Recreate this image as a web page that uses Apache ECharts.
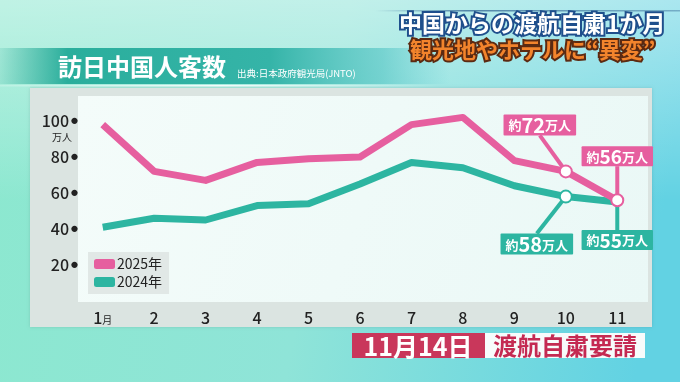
<!DOCTYPE html>
<html><head><meta charset="utf-8">
<script src="https://cdn.jsdelivr.net/npm/echarts@6/dist/echarts.min.js"></script>
<style>html,body{margin:0;padding:0;}#c{width:680px;height:382px;}</style>
</head><body><div id="c"></div>
<script>
const months = ['1月','2','3','4','5','6','7','8','9','10','11'];
const values2025 = [98, 72, 67, 77, 79, 80, 98, 102, 78, 72, 56];
const values2024 = [41, 46, 45, 53, 54, 65, 77, 74, 64, 58, 55];
const seriesNames = ['2025年','2024年'];
// callouts: month index -> label number
const callouts2025 = {9: '72', 10: '56'};
const callouts2024 = {9: '58', 10: '55'};

const PINK = '#e65f9f', TEAL = '#2db5a1';
const FONT = '"Noto Sans CJK JP", "Noto Sans", sans-serif';

function buildData(vals, callouts, color, markedIdx, pos) {
  return vals.map((v, i) => {
    if (callouts[i] === undefined) return v;
    const marked = markedIdx.indexOf(i) >= 0;
    return {
      value: v,
      symbol: 'circle',
      symbolSize: marked ? 12 : 2,
      itemStyle: {color: marked ? '#ffffff' : color, borderColor: color, borderWidth: marked ? 2 : 0},
      label: {
        show: true, position: pos, distance: 5,
        formatter: '{a|約}{b|' + callouts[i] + '}{a|万人}',
        backgroundColor: color, padding: [1, 5, 0, 5], borderRadius: 1,
        rich: {
          a: {fontSize: 13, color: '#fff', fontFamily: FONT, fontWeight: 'bold'},
          b: {fontSize: i === 9 ? 20 : 19, color: '#fff', fontFamily: FONT, fontWeight: 'bold'}
        }
      },
      labelLine: {show: true, lineStyle: {color: color, width: 4}}
    };
  });
}

const chart = echarts.init(document.getElementById('c'));
const option = {
  backgroundColor: {
    type: 'linear', x: 0, y: 0, x2: 1, y2: 0.3,
    colorStops: [{offset: 0, color: '#8ce8cf'}, {offset: 0.5, color: '#8fe4d8'}, {offset: 1, color: '#62d2e3'}]
  },
  animation: false,
  textStyle: {fontFamily: FONT},
  graphic: [
    {type: 'rect', z: -20, shape: {x: 0, y: 0, width: 680, height: 200},
      style: {fill: {type: 'linear', x: 0, y: 0, x2: 0, y2: 1,
        colorStops: [{offset: 0, color: 'rgba(255,255,255,0.45)'}, {offset: 1, color: 'rgba(255,255,255,0)'}]}}},
    // title band
    {type: 'rect', z: -10, shape: {x: 0, y: 48, width: 450, height: 36},
      style: {fill: {type: 'linear', x: 0, y: 0, x2: 1, y2: 0,
        colorStops: [{offset: 0, color: 'rgba(40,170,150,0.15)'}, {offset: 0.15, color: '#2aae9c'},
          {offset: 0.6, color: '#35b4a8'}, {offset: 0.85, color: 'rgba(80,195,195,0.6)'}, {offset: 1, color: 'rgba(90,200,210,0)'}]}}},
    {type: 'rect', z: -10, shape: {x: 0, y: 85, width: 440, height: 1.5},
      style: {fill: {type: 'linear', x: 0, y: 0, x2: 1, y2: 0,
        colorStops: [{offset: 0, color: 'rgba(255,255,255,0.2)'}, {offset: 0.5, color: 'rgba(255,255,255,0.9)'}, {offset: 1, color: 'rgba(255,255,255,0)'}]}}},
    {type: 'text', x: 58, y: 67, style: {text: '訪日中国人客数', fill: '#ffffff', font: 'bold 24px ' + FONT,
      textVerticalAlign: 'middle', shadowColor: 'rgba(0,60,50,0.5)', shadowBlur: 2, shadowOffsetY: 1}},
    {type: 'text', x: 237, y: 73, style: {text: '出典:日本政府観光局(JNTO)', fill: '#ffffff', font: '9.5px ' + FONT, textVerticalAlign: 'middle'}},
    // headline
    {type: 'rect', z: -10, shape: {x: 375, y: 10, width: 305, height: 1.5},
      style: {fill: {type: 'linear', x: 0, y: 0, x2: 1, y2: 0,
        colorStops: [{offset: 0, color: 'rgba(40,90,140,0)'}, {offset: 0.3, color: 'rgba(40,90,140,0.7)'}, {offset: 1, color: 'rgba(40,90,140,0.4)'}]}}},
    {type: 'text', x: 399, y: 23, style: {text: '中国からの渡航自粛1か月', fill: '#ffffff', stroke: '#1f4f8c', lineWidth: 4,
      font: 'bold 23px ' + FONT, textVerticalAlign: 'middle'}},
    {type: 'text', x: 410, y: 50, style: {text: '観光地やホテルに“異変”', fill: '#f3842c', stroke: '#5b2a12', lineWidth: 4,
      font: 'bold 22px ' + FONT, textVerticalAlign: 'middle'}},
    // panel
    {type: 'rect', z: -5, shape: {x: 30, y: 88, width: 622, height: 239}, style: {fill: '#dbe4e1', shadowColor: 'rgba(0,0,0,0.12)', shadowBlur: 3}},
    {type: 'rect', z: -4, shape: {x: 78, y: 96, width: 570, height: 206},
      style: {fill: {type: 'linear', x: 0, y: 0, x2: 1, y2: 1,
        colorStops: [{offset: 0, color: '#f4fcfa'}, {offset: 1, color: '#eaf8f6'}]}}},
    {type: 'text', x: 72, y: 137, style: {text: '万人', fill: '#222', font: '10px ' + FONT, textAlign: 'right', textVerticalAlign: 'middle'}},
    // bottom banner
    {type: 'rect', shape: {x: 352, y: 333, width: 133, height: 25}, style: {fill: '#c9375b'}},
    {type: 'rect', shape: {x: 485, y: 333, width: 160, height: 25}, style: {fill: '#f7fbfb'}},
    {type: 'text', x: 418, y: 346, style: {text: '11月14日', fill: '#ffffff', font: 'bold 25px ' + FONT,
      textAlign: 'center', textVerticalAlign: 'middle'}},
    {type: 'text', x: 565, y: 346, style: {text: '渡航自粛要請', fill: '#c42a52', font: 'bold 24px ' + FONT,
      textAlign: 'center', textVerticalAlign: 'middle'}}
  ],
  grid: {left: 77, right: 37, top: 103, bottom: 81},
  legend: {
    data: seriesNames, orient: 'vertical', left: 88, top: 252,
    backgroundColor: '#e1e8e6', padding: [5, 7, 5, 6], itemGap: 4,
    itemWidth: 21, itemHeight: 10, icon: 'roundRect',
    textStyle: {fontSize: 14, color: '#222', fontFamily: FONT, padding: [0, 0, 0, -3]}
  },
  xAxis: {
    type: 'category', data: months, boundaryGap: true,
    axisLine: {show: false}, axisTick: {show: false},
    axisLabel: {
      margin: 9, color: '#222', interval: 0,
      formatter: v => v === '1月' ? '{n|1}{u|月}' : '{n|' + v + '}',
      rich: {n: {fontSize: 16, fontFamily: FONT, color: '#222', fontWeight: 500},
             u: {fontSize: 10, fontFamily: FONT, color: '#222', padding: [4, 0, 0, 0]}}
    }
  },
  yAxis: {
    type: 'value', min: 0, max: 110, interval: 20,
    splitLine: {show: false}, axisLine: {show: false}, axisTick: {show: false},
    axisLabel: {
      margin: -1, showMaxLabel: false, showMinLabel: false,
      formatter: v => (v === 0 || v > 100) ? '' : '{v|' + v + '}{d|●}',
      rich: {v: {fontSize: 16, fontFamily: FONT, color: '#222', fontWeight: 500},
             d: {fontSize: 7, color: '#222', padding: [0, 0, 2, 2]}}
    }
  },
  series: [
    {
      name: seriesNames[0], type: 'line', color: PINK, z: 4,
      symbol: 'none', clip: false,
      lineStyle: {width: 7, color: PINK, join: 'round'},
      data: buildData(values2025, callouts2025, PINK, [9, 10], 'top'),
      labelLayout: p => p.dataIndex === 9 ? {dx: -26, dy: -24} : {dx: 0, dy: -22}
    },
    {
      name: seriesNames[1], type: 'line', color: TEAL, z: 3,
      symbol: 'none', clip: false,
      lineStyle: {width: 7, color: TEAL, join: 'round'},
      data: buildData(values2024, callouts2024, TEAL, [9], 'bottom'),
      labelLayout: p => p.dataIndex === 9 ? {dx: -29, dy: 25} : {dx: 0, dy: 22}
    }
  ]
};
chart.setOption(option);
</script>
</body></html>
